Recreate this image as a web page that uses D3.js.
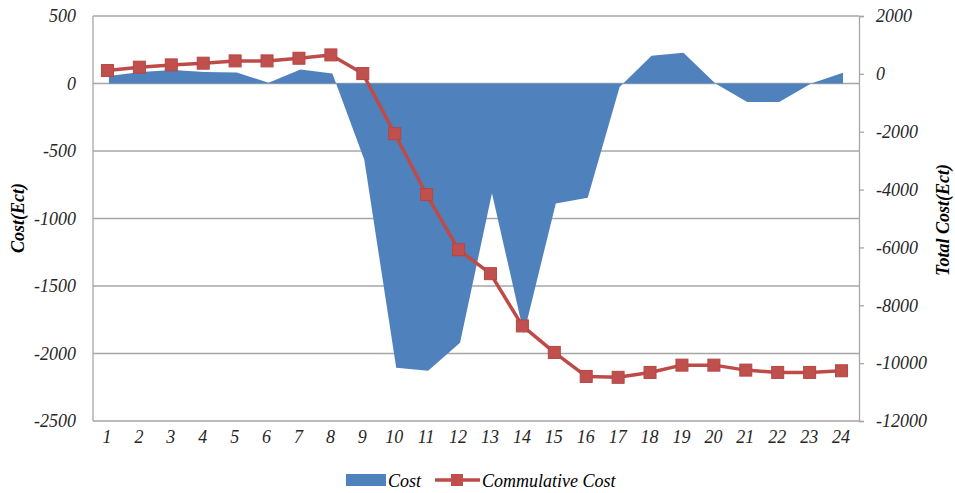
<!DOCTYPE html>
<html><head><meta charset="utf-8">
<script src="https://cdn.jsdelivr.net/npm/d3@7"></script>
<style>body{margin:0;background:#fff}svg{display:block}text{font-family:"Liberation Serif","Times New Roman",serif}</style>
</head><body><svg id="c" width="955" height="493"></svg>
<script>
const hours = [1,2,3,4,5,6,7,8,9,10,11,12,13,14,15,16,17,18,19,20,21,22,23,24];
const cost = [55,86,100,86,82,5,104,74,-565,-2106,-2128,-1920,-813,-1853,-888,-846,-25,205,228,0,-137,-137,0,79];
const cumulative = [114,231,310,369,448,448,540,655,10,-2069,-4172,-6080,-6907,-8713,-9630,-10460,-10490,-10321,-10069,-10069,-10241,-10321,-10321,-10264];
const leftTicks = [500,0,-500,-1000,-1500,-2000,-2500];
const rightTicks = [2000,0,-2000,-4000,-6000,-8000,-10000,-12000];

const svg = d3.select("#c");
const L = 93, R = 859, T = 16, B = 421;
const FS = 18;
const fmt = d => String(d);
const x = d3.scaleBand().domain(hours).range([L, R]);
const cx = d => x(d) + x.bandwidth()/2;
const yL = d3.scaleLinear().domain([-2500,500]).range([B,T]);
const yR = d3.scaleLinear().domain([-12000,2000]).range([B,T]);

// gridlines
svg.append("g").selectAll("line").data(leftTicks).join("line")
  .attr("x1", L).attr("x2", R).attr("y1", d=>yL(d)).attr("y2", d=>yL(d))
  .attr("stroke", "#a6a6a6").attr("stroke-width", 1.3);

// area
const area = d3.area().x((d,i)=>cx(hours[i])).y0(yL(0)).y1(d=>yL(d));
svg.append("path").datum(cost).attr("d", area).attr("fill", "#4f81bd");

// left axis line
svg.append("line").attr("x1",L).attr("x2",L).attr("y1",T).attr("y2",B).attr("stroke","#a6a6a6").attr("stroke-width",1.3);

// right axis
const ra = svg.append("g").attr("transform",`translate(${R},0)`)
  .call(d3.axisRight(yR).tickValues(rightTicks).tickSize(5).tickPadding(12).tickFormat(fmt));
ra.select(".domain").attr("stroke","#a6a6a6").attr("stroke-width",1.3);
ra.selectAll(".tick line").attr("stroke","#a6a6a6").attr("stroke-width",1.3);
ra.selectAll("text").attr("font-size",FS).attr("font-style","italic").attr("fill","#262626")
  .attr("font-family","Liberation Serif, serif").attr("text-anchor","start");

// left labels
const la = svg.append("g").attr("transform",`translate(${L},0)`)
  .call(d3.axisLeft(yL).tickValues(leftTicks).tickSize(0).tickPadding(17).tickFormat(fmt));
la.select(".domain").remove();
la.selectAll("text").attr("font-size",FS).attr("font-style","italic").attr("fill","#262626")
  .attr("font-family","Liberation Serif, serif");

// bottom labels
const ba = svg.append("g").attr("transform",`translate(0,${B})`)
  .call(d3.axisBottom(x).tickSize(0).tickPadding(9));
ba.select(".domain").remove();
ba.selectAll("text").attr("font-size",FS).attr("font-style","italic").attr("fill","#262626")
  .attr("font-family","Liberation Serif, serif").attr("dx",-2);

// cumulative line
const line = d3.line().x((d,i)=>cx(hours[i])-1.5).y(d=>yR(d));
svg.append("path").datum(cumulative).attr("d", line).attr("fill","none")
  .attr("stroke","#be4b48").attr("stroke-width",3.5).attr("stroke-linejoin","round");
svg.append("g").selectAll("rect").data(cumulative).join("rect")
  .attr("x",(d,i)=>cx(hours[i])-1.5-6).attr("y",d=>yR(d)-6).attr("width",12).attr("height",12)
  .attr("fill","#c0504d").attr("stroke","#b54643").attr("stroke-width",1);

// axis titles
svg.append("text").attr("transform","translate(24,218) rotate(-90)").attr("text-anchor","middle")
  .attr("font-size",FS).attr("font-weight","bold").attr("font-style","italic").attr("fill","#000").text("Cost(Ect)");
svg.append("text").attr("transform","translate(949,220) rotate(-90)").attr("text-anchor","middle")
  .attr("font-size",FS).attr("font-weight","bold").attr("font-style","italic").attr("fill","#000").text("Total Cost(Ect)");

// legend
const lg = svg.append("g");
lg.append("rect").attr("x",346).attr("y",474).attr("width",40).attr("height",12).attr("fill","#4f81bd");
lg.append("text").attr("x",388).attr("y",487).attr("font-size",FS).attr("font-style","italic").attr("fill","#000").text("Cost");
lg.append("line").attr("x1",435).attr("x2",480).attr("y1",480).attr("y2",480).attr("stroke","#be4b48").attr("stroke-width",3.5);
lg.append("rect").attr("x",451).attr("y",474).attr("width",12).attr("height",12).attr("fill","#c0504d");
lg.append("text").attr("x",482).attr("y",487).attr("font-size",FS).attr("font-style","italic").attr("fill","#000").text("Commulative Cost");
</script></body></html>
